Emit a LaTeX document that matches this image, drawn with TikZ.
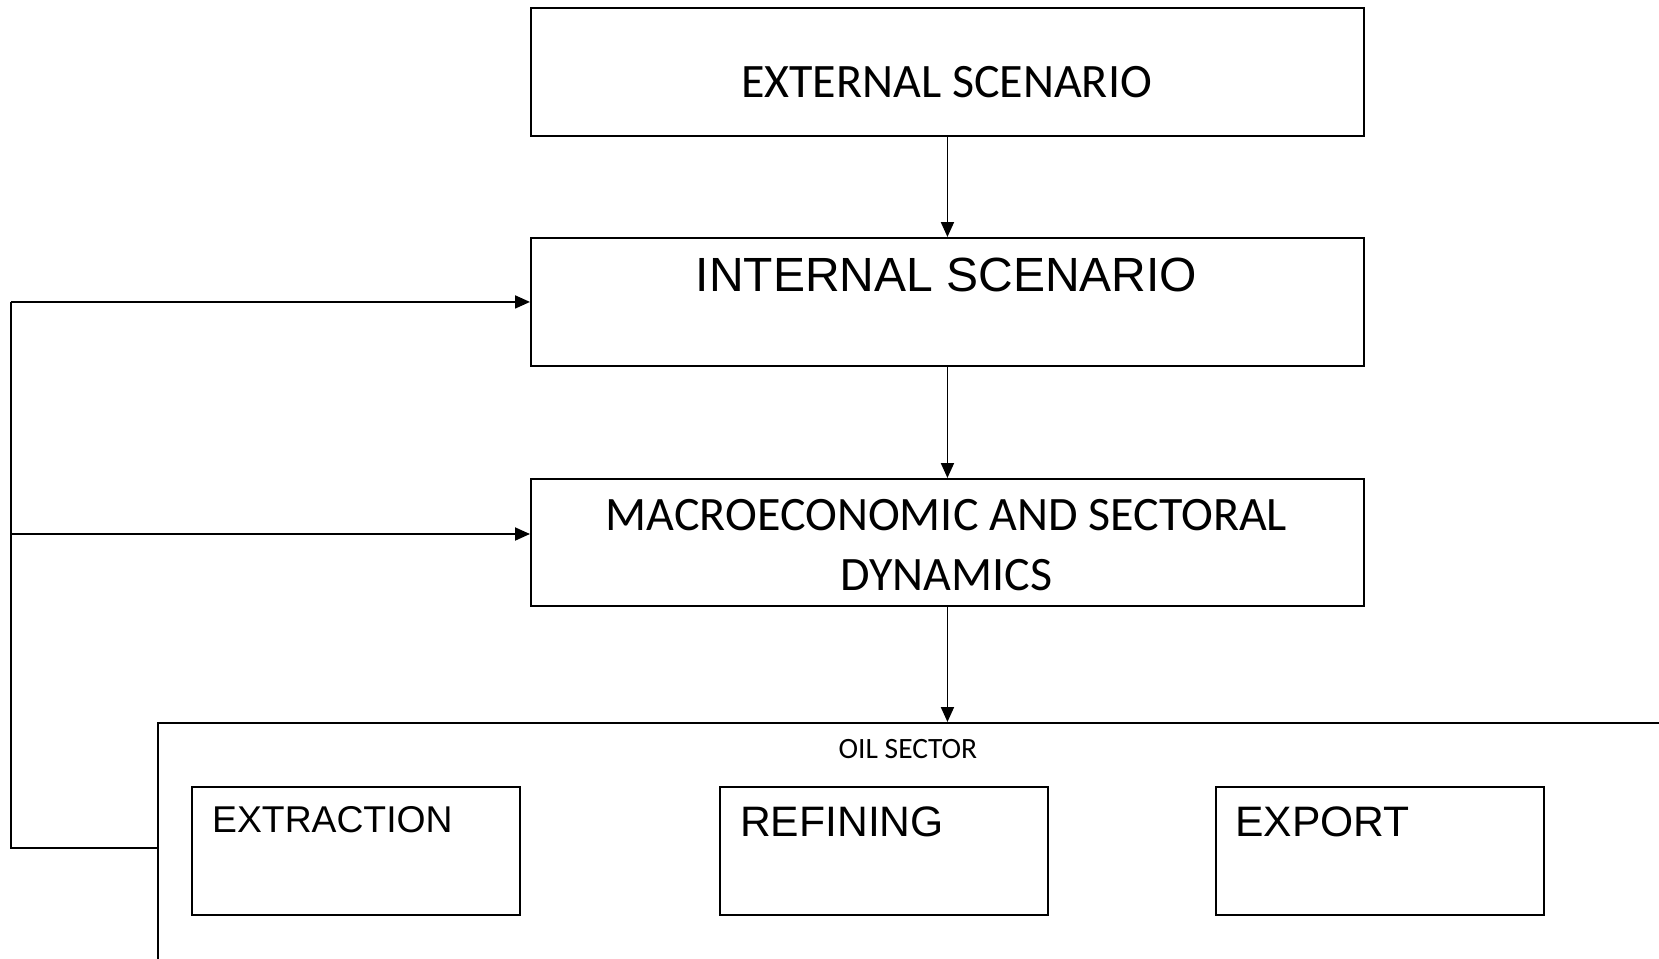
\documentclass[tikz,border=0pt]{standalone}
\usepackage{fontspec}
\setmainfont{Carlito}
\newfontfamily\arialf{Liberation Sans}
\usetikzlibrary{arrows.meta}
\tikzset{
  box/.style={draw, line width=1.9pt, rectangle, inner sep=0pt},
  conn/.style={line width=1.9pt},
  arr/.style={line width=1.9pt, -{Triangle[length=15pt,width=13pt]}},
  big/.style={font=\fontsize{48}{60}\selectfont, inner sep=0pt},
  bigA/.style={font=\arialf\fontsize{48}{60}\selectfont, inner sep=0pt},
}
\begin{document}
\begin{tikzpicture}[x=1pt,y=-1pt]
\clip (0,0) rectangle (1659,958);
\useasboundingbox (0,0) rectangle (1659,958);
% main boxes
\node[box, minimum width=833pt, minimum height=128pt, anchor=north west] (ext) at (530,7) {};
\node[box, minimum width=833pt, minimum height=128pt, anchor=north west] (int) at (530,237) {};
\node[box, minimum width=833pt, minimum height=127pt, anchor=north west] (mac) at (530,478) {};
% oil sector (extends off page)
\node[box, minimum width=1700pt, minimum height=400pt, anchor=north west] (oil) at (157,722) {};
\node[box, minimum width=328pt, minimum height=128pt, anchor=north west] (extr) at (191,786) {};
\node[box, minimum width=328pt, minimum height=128pt, anchor=north west] (ref) at (719,786) {};
\node[box, minimum width=328pt, minimum height=128pt, anchor=north west] (exp) at (1215,786) {};
% texts
\node[big] (textext) at (946.5,82) {EXTERNAL SCENARIO};
\node[bigA] (textint) at (946.5,275) {INTERNAL SCENARIO};
\node[big, align=center] (textmac) at (946.5,545.5) {MACROECONOMIC AND SECTORAL\\DYNAMICS};
\node[font=\fontsize{29.5}{35}\selectfont, inner sep=0pt] (textoil) at (908,749) {OIL SECTOR};
\node[font=\arialf\fontsize{37.3}{44}\selectfont, inner sep=0pt, anchor=west] (textextr) at (212,820) {EXTRACTION};
\node[font=\arialf\fontsize{42.6}{50}\selectfont, inner sep=0pt, anchor=west] (textref) at (740,822) {REFINING};
\node[font=\arialf\fontsize{42.6}{50}\selectfont, inner sep=0pt, anchor=west] (textexp) at (1235,822) {EXPORT};
% connectors
\draw[arr] (ext.south) -- (int.north);
\draw[arr] (int.south) -- (mac.north);
\draw[arr] (mac.south) -- (mac.south |- oil.north);
\coordinate (fb) at (10.6,848);
\coordinate (fbmid) at (10.6,534);
\draw[conn] (oil.west |- fb) -- (fb) -- (fb |- int.west);
\draw[arr] (fb |- int.west) -- (int.west);
\draw[arr] (fbmid) -- (mac.west |- fbmid);
\end{tikzpicture}
\end{document}
